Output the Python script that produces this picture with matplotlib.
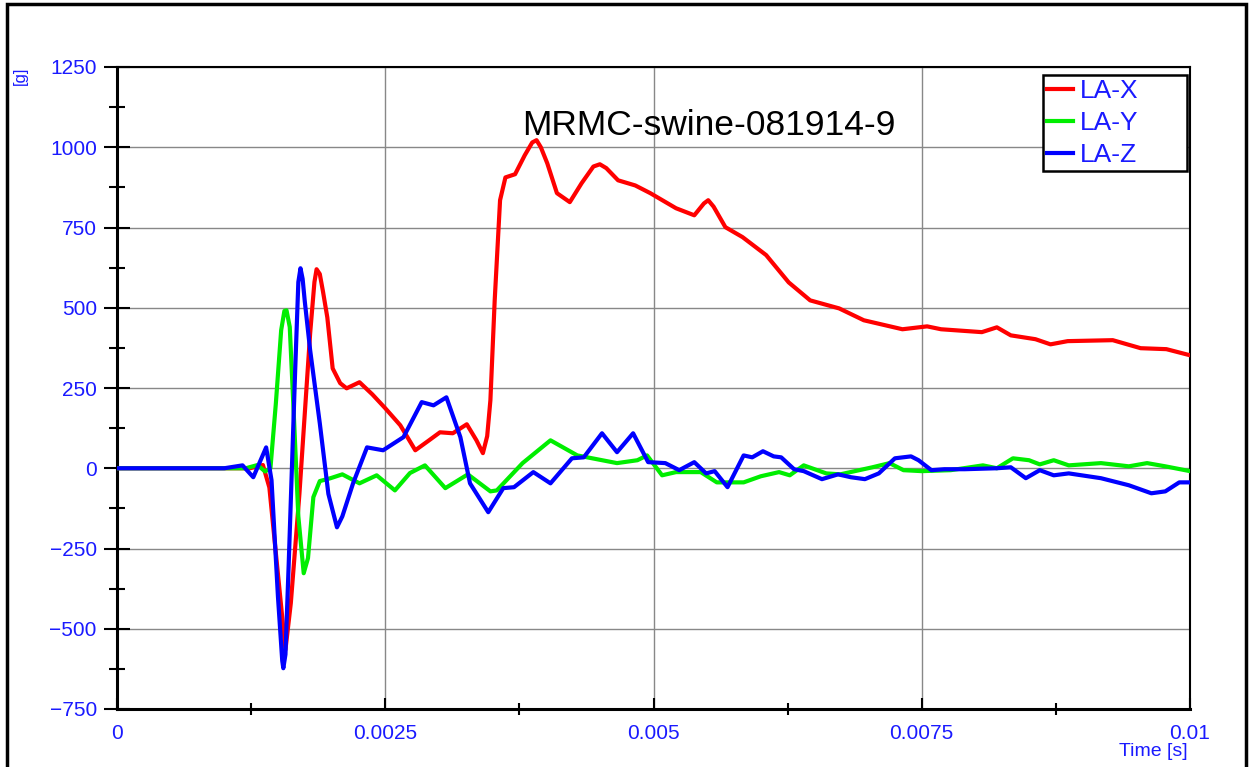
import matplotlib.pyplot as plt
from matplotlib.patches import Rectangle
from matplotlib.ticker import MultipleLocator

# time in ms, acceleration in g
t_x = [0, 1.0, 1.24, 1.36, 1.42, 1.50, 1.57, 1.62, 1.70, 1.80, 1.84, 1.86, 1.89, 1.92, 1.96, 2.01, 2.08, 2.14,
       2.26, 2.38, 2.50, 2.64, 2.78, 2.90, 3.01, 3.13, 3.26, 3.35, 3.41, 3.45, 3.48, 3.52, 3.57, 3.62,
       3.71, 3.80, 3.87, 3.91, 3.95, 4.01, 4.10, 4.22, 4.33, 4.44, 4.50, 4.56, 4.67, 4.83, 4.97, 5.21, 5.38,
       5.47, 5.51, 5.56, 5.67, 5.83,
       6.05, 6.26, 6.46, 6.73, 6.96, 7.32, 7.55, 7.68, 8.06, 8.20, 8.33, 8.56, 8.70, 8.86, 9.28, 9.54,
       9.78, 10.0]
la_x = [0, 0, 0, 10, -60, -330, -565, -420, -80, 420, 580, 620, 605, 550, 470, 311, 265, 249,
        268, 230, 187, 134, 56, 85, 112, 109, 137, 87, 47, 100, 212, 523, 835, 906,
        916, 975, 1015, 1022, 1000, 950, 857, 829, 888, 940, 947, 935, 897, 881, 857, 810, 788,
        825, 835, 815, 751, 720,
        664, 579, 523, 498, 461, 433, 442, 433, 424, 439, 414, 402, 386, 396, 399, 374,
        371, 352]

t_y = [0, 1.0, 1.20, 1.31, 1.38, 1.43, 1.48, 1.53, 1.56, 1.58, 1.61, 1.65, 1.69, 1.74, 1.78, 1.83,
       1.89, 1.99, 2.10,
       2.26, 2.42, 2.59, 2.73, 2.87, 3.06, 3.27, 3.48, 3.54, 3.78, 4.04, 4.29, 4.66, 4.85, 4.94,
       5.08, 5.21, 5.44, 5.59, 5.84, 6.00, 6.17, 6.27, 6.40, 6.61, 6.74, 7.04, 7.20, 7.33, 7.50,
       7.77, 8.07, 8.20, 8.35, 8.50, 8.60, 8.73, 8.87, 9.17, 9.43, 9.60, 9.77, 10.0]
la_y = [0, 0, 0, 10, -10, 0, 200, 430, 490, 492, 440, 150, -150, -327, -280, -90,
        -40, -31, -19,
        -47, -22, -69, -15, 9, -62, -19, -72, -69, 16, 87, 40, 16, 25, 40,
        -22, -12, -12, -44, -44, -25, -12, -22, 9, -16, -19, 3, 16, -6, -9,
        -6, 9, 0, 31, 25, 12, 25, 9, 16, 6, 16, 6, -9]

t_z = [0, 1.0, 1.17, 1.27, 1.39, 1.44, 1.50, 1.54, 1.55, 1.57, 1.60, 1.66, 1.69, 1.71, 1.73, 1.75,
       1.80, 1.89, 1.97, 2.05, 2.10,
       2.20, 2.33, 2.48, 2.67, 2.84, 2.95, 3.07, 3.20, 3.29, 3.46, 3.60, 3.70, 3.88, 4.04, 4.24,
       4.35, 4.52, 4.66, 4.81, 4.95, 5.11, 5.24, 5.38, 5.49, 5.57, 5.69, 5.84, 5.92, 6.02, 6.12,
       6.19, 6.31, 6.40, 6.57, 6.72, 6.84, 6.97, 7.10, 7.25, 7.40, 7.47, 7.59, 7.71, 7.90, 8.20,
       8.33, 8.47, 8.60, 8.73, 8.87, 9.17, 9.43, 9.64, 9.77, 9.90, 10.0]
la_z = [0, 0, 9, -28, 65, -37, -400, -600, -623, -580, -300, 300, 580, 623, 590, 520,
        368, 140, -80, -184, -150,
        -47, 65, 56, 97, 206, 196, 221, 97, -47, -137, -62, -59, -12, -47, 31,
        34, 109, 50, 109, 19, 16, -6, 19, -16, -9, -59, 40, 34, 53, 37,
        34, -3, -9, -34, -19, -28, -34, -16, 31, 37, 25, -6, -3, -3, 0,
        3, -31, -6, -22, -16, -31, -53, -78, -72, -44, -44]

x_ticks = [0, 0.0025, 0.005, 0.0075, 0.01]
x_labels = ['0', '0.0025', '0.005', '0.0075', '0.01']
y_ticks = [-750, -500, -250, 0, 250, 500, 750, 1000, 1250]

blue_txt = '#1a1aff'
plt.rcParams['font.family'] = ['Liberation Sans', 'DejaVu Sans']

fig = plt.figure(figsize=(12.52, 7.67), dpi=100)
ax = fig.add_axes([117 / 1252, 58 / 767, 1073 / 1252, 642 / 767])

ax.plot([v / 1000 for v in t_x], la_x, color='#ff0000', lw=3, label='LA-X', zorder=3,
        solid_joinstyle='round')
ax.plot([v / 1000 for v in t_y], la_y, color='#00ee00', lw=3, label='LA-Y', zorder=3,
        solid_joinstyle='round')
ax.plot([v / 1000 for v in t_z], la_z, color='#0000ff', lw=3, label='LA-Z', zorder=4,
        solid_joinstyle='round')

ax.set_xlim(0, 0.01)
ax.set_ylim(-750, 1250)
ax.set_xticks(x_ticks)
ax.set_xticklabels(x_labels)
ax.set_yticks(y_ticks)
ax.xaxis.set_minor_locator(MultipleLocator(0.00125))
ax.yaxis.set_minor_locator(MultipleLocator(125))
ax.grid(True, which='major', color='#888888', lw=1, zorder=1)

ax.tick_params(axis='y', which='major', direction='inout', length=19, width=1.5,
               labelcolor=blue_txt, labelsize=15, pad=5)
ax.tick_params(axis='y', which='minor', direction='inout', length=11, width=1.5)
ax.tick_params(axis='x', which='major', direction='in', length=8, width=1.5,
               labelcolor=blue_txt, labelsize=15, pad=11)
ax.tick_params(axis='x', which='minor', direction='inout', length=9, width=1.5)

for side in ['left', 'bottom']:
    ax.spines[side].set_linewidth(2.2)
for side in ['top', 'right']:
    ax.spines[side].set_linewidth(1.5)

ax.text(0.00378, 1068, 'MRMC-swine-081914-9', fontsize=25.5, color='black', va='center')

# wide legend box, entries left aligned
leg = ax.legend(loc='upper left', bbox_to_anchor=(0.863, 0.844, 0.134, 0.1435), mode='expand',
                fontsize=19, handlelength=1.0, handletextpad=0.25, labelspacing=0.3,
                borderaxespad=0, borderpad=0.15, fancybox=False, framealpha=1)
leg.get_frame().set_edgecolor('black')
leg.get_frame().set_linewidth(1.8)
for txt in leg.get_texts():
    txt.set_color(blue_txt)
for h in leg.get_lines():
    h.set_linewidth(3)

fig.text(20 / 1252, 1 - 76 / 767, '[g]', rotation=90, color=blue_txt, fontsize=12,
         ha='center', va='center')
fig.text(1153 / 1252, 1 - 752 / 767, 'Time [s]', color=blue_txt, fontsize=14,
         ha='center', va='center')

fig.patches.append(Rectangle((7 / 1252, -0.05), 1239 / 1252, 1.05 - 4 / 767,
                             transform=fig.transFigure, fill=False, edgecolor='black', lw=2.5))

fig.savefig('out.png', dpi=100)
